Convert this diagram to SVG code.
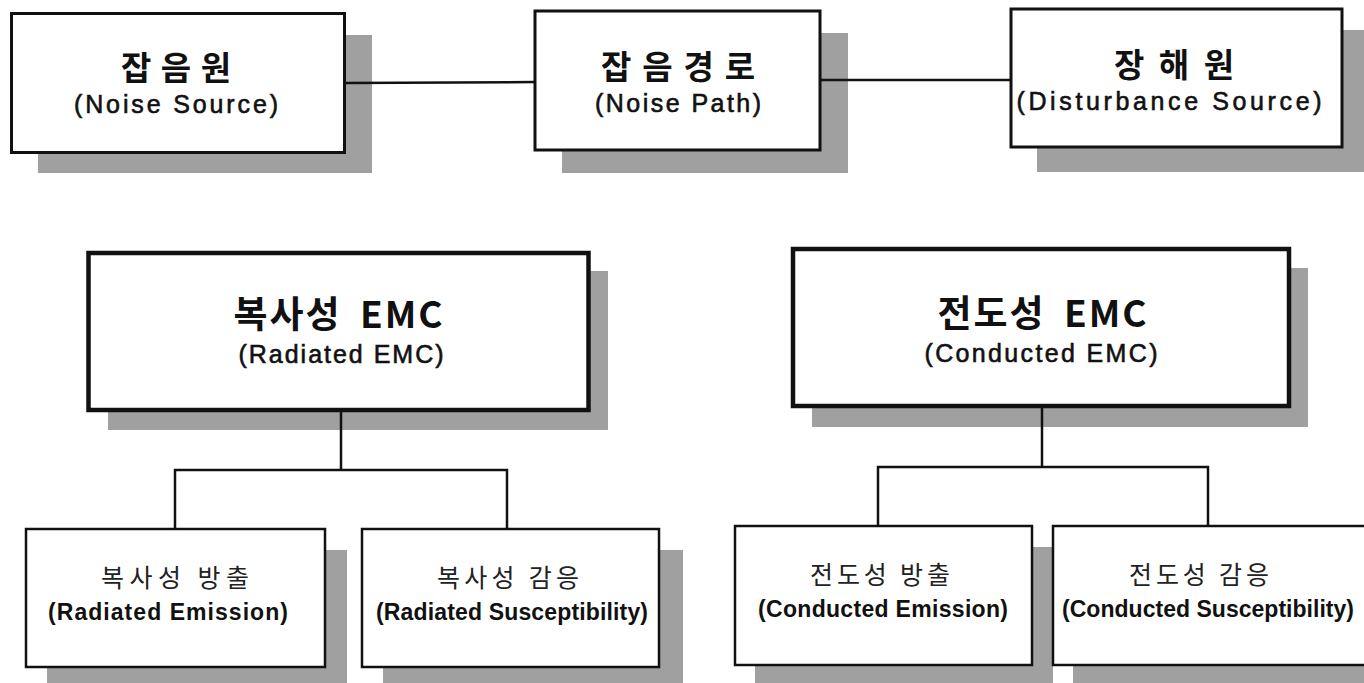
<svg xmlns="http://www.w3.org/2000/svg" width="1364" height="683" viewBox="0 0 1364 683">
<style>
.bg{fill:#ffffff}
.sh{fill:#a0a0a0}
.b1{fill:#ffffff;stroke:#111;stroke-width:3}
.b2{fill:#ffffff;stroke:#111;stroke-width:4.5}
.b3{fill:#ffffff;stroke:#111;stroke-width:2.5}
.kt{font-family:"Noto Sans CJK KR","Noto Sans",sans-serif;font-weight:bold;fill:#111;text-anchor:middle}
.km{font-family:"Noto Sans CJK KR","Noto Sans",sans-serif;font-weight:bold;fill:#111;text-anchor:middle;font-size:37px;letter-spacing:2px;word-spacing:8px}
.kb{font-family:"Noto Sans CJK KR","Noto Sans",sans-serif;font-weight:normal;fill:#222;text-anchor:middle}
.et{font-family:"Liberation Sans",Arial,sans-serif;fill:#111;stroke:#111;stroke-width:0.6;text-anchor:middle}
.eb{font-family:"Liberation Sans",Arial,sans-serif;font-weight:bold;fill:#111;text-anchor:middle}
.cn{stroke:#111;stroke-width:2.5;fill:none}
</style>
<rect class="bg" x="0" y="0" width="1364" height="683"/>

<g id="noise-source">
<rect class="sh" x="38" y="35" width="334" height="138"/>
<rect class="b1" x="11.5" y="13.5" width="333" height="139"/>
<text class="kt" x="176" y="80" font-size="33" textLength="110" lengthAdjust="spacing">잡음원</text>
<text class="et" x="176" y="113" font-size="25" textLength="204" lengthAdjust="spacing">(Noise Source)</text>
</g>

<g id="noise-path">
<rect class="sh" x="562" y="33" width="286" height="140"/>
<rect class="b1" x="535" y="11" width="285" height="139"/>
<text class="kt" x="678" y="79" font-size="33" textLength="154" lengthAdjust="spacing">잡음경로</text>
<text class="et" x="678" y="112" font-size="25" textLength="166" lengthAdjust="spacing">(Noise Path)</text>
</g>

<g id="disturbance-source">
<rect class="sh" x="1037" y="30" width="330" height="142"/>
<rect class="b1" x="1011" y="9" width="331" height="138"/>
<text class="kt" x="1174" y="77" font-size="33" textLength="120" lengthAdjust="spacing">장해원</text>
<text class="et" x="1169" y="110" font-size="25" textLength="305" lengthAdjust="spacing">(Disturbance Source)</text>
</g>

<g id="radiated-emc">
<rect class="sh" x="108" y="271" width="500" height="159"/>
<rect class="b2" x="88.5" y="253" width="500" height="157"/>
<text class="km" x="339" y="328">복사성 EMC</text>
<text class="et" x="341" y="363" font-size="25" textLength="205" lengthAdjust="spacing">(Radiated EMC)</text>
</g>

<g id="conducted-emc">
<rect class="sh" x="812" y="268" width="496" height="159"/>
<rect class="b2" x="793" y="249" width="496" height="157"/>
<text class="km" x="1043" y="327">전도성 EMC</text>
<text class="et" x="1041" y="362" font-size="25" textLength="233" lengthAdjust="spacing">(Conducted EMC)</text>
</g>

<g id="radiated-emission">
<rect class="sh" x="47" y="550" width="300" height="140"/>
<rect class="b3" x="26" y="529" width="299" height="138"/>
<text class="kb" x="175" y="587" font-size="25" textLength="148" lengthAdjust="spacing">복사성 방출</text>
<text class="eb" x="168" y="620" font-size="23" textLength="240" lengthAdjust="spacing">(Radiated Emission)</text>
</g>

<g id="radiated-susceptibility">
<rect class="sh" x="383" y="550" width="300" height="140"/>
<rect class="b3" x="362" y="529" width="297" height="138"/>
<text class="kb" x="508" y="587" font-size="25" textLength="142" lengthAdjust="spacing">복사성 감응</text>
<text class="eb" x="512" y="620" font-size="23" textLength="272" lengthAdjust="spacing">(Radiated Susceptibility)</text>
</g>

<g id="conducted-emission">
<rect class="sh" x="755" y="547" width="298" height="140"/>
<rect class="b3" x="735" y="526" width="297" height="139"/>
<text class="kb" x="880" y="584" font-size="25" textLength="140" lengthAdjust="spacing">전도성 방출</text>
<text class="eb" x="883" y="617" font-size="23" textLength="250" lengthAdjust="spacing">(Conducted Emission)</text>
</g>

<g id="conducted-susceptibility">
<rect class="sh" x="1073" y="547" width="300" height="140"/>
<rect class="b3" x="1053" y="526" width="320" height="139"/>
<text class="kb" x="1199" y="584" font-size="25" textLength="140" lengthAdjust="spacing">전도성 감응</text>
<text class="eb" x="1208" y="617" font-size="23" textLength="292" lengthAdjust="spacing">(Conducted Susceptibility)</text>
</g>

<g id="connectors">
<line class="cn" x1="345" y1="83" x2="535" y2="82"/>
<line class="cn" x1="820" y1="80" x2="1011" y2="80"/>
<line class="cn" x1="341" y1="412" x2="341" y2="470"/>
<polyline class="cn" points="175,529 175,470 507,470 507,529"/>
<line class="cn" x1="1042" y1="408" x2="1042" y2="467"/>
<polyline class="cn" points="878,526 878,467 1208,467 1208,526"/>
</g>
</svg>
